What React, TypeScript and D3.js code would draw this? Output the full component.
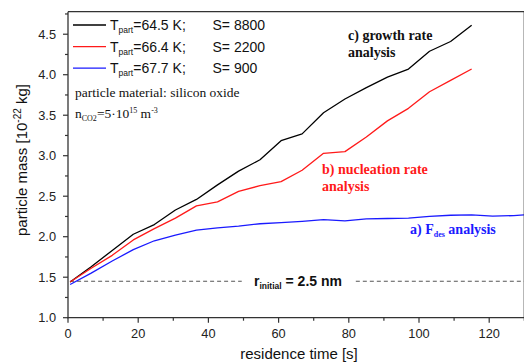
import React from "react";
import * as d3 from "d3";

const timesMain = [0.6, 6.6, 12.6, 18.6, 24.6, 30.6, 36.6, 42.6, 48.6, 54.7, 60.7, 66.7, 72.8, 78.9, 85, 91, 97, 103, 109, 115];
const massBlack = [1.44, 1.63, 1.83, 2.03, 2.15, 2.33, 2.46, 2.64, 2.81, 2.95, 3.185, 3.27, 3.53, 3.70, 3.84, 3.97, 4.07, 4.29, 4.41, 4.61];
const massRed = [1.44, 1.61, 1.77, 1.96, 2.10, 2.23, 2.38, 2.43, 2.56, 2.63, 2.68, 2.82, 3.03, 3.05, 3.23, 3.43, 3.585, 3.79, 3.93, 4.07];
const timesBlue = [0.6, 6.6, 12.6, 18.6, 24.6, 30.6, 36.6, 42.6, 48.6, 54.7, 60.7, 66.7, 72.8, 78.9, 85, 91, 97, 103, 109, 115, 121, 127, 130];
const massBlue = [1.41, 1.55, 1.70, 1.84, 1.95, 2.02, 2.08, 2.11, 2.13, 2.16, 2.175, 2.19, 2.21, 2.195, 2.22, 2.225, 2.23, 2.25, 2.265, 2.27, 2.255, 2.26, 2.27];
const initialMass = 1.45;

const xTicks = [0, 20, 40, 60, 80, 100, 120];
const xMinor = [10, 30, 50, 70, 90, 110, 130];
const yTicks = [1.0, 1.5, 2.0, 2.5, 3.0, 3.5, 4.0, 4.5];
const yMinor = [1.25, 1.75, 2.25, 2.75, 3.25, 3.75, 4.25, 4.75];

const legendT = ["64.5", "66.4", "67.7"];
const legendS = ["8800", "2200", "900"];
const colors = ["#000000", "#ff1a1a", "#1a1aff"];

const W = 524, H = 364;
const X0 = 68, X1 = 524.3, YB = 317.7, YT = 11.7;

export default function App() {
  const x = d3.scaleLinear().domain([0, 130]).range([X0, X1]);
  const y = d3.scaleLinear().domain([1.0, 4.778]).range([YB, YT]);
  const line = d3.line<[number, number]>().x(d => x(d[0])).y(d => y(d[1]));
  const series = [
    { t: timesMain, v: massBlack, c: colors[0] },
    { t: timesMain, v: massRed, c: colors[1] },
    { t: timesBlue, v: massBlue, c: colors[2] },
  ];
  const sans = "'Liberation Sans', Arial, sans-serif";
  const serif = "'Liberation Serif', 'Times New Roman', serif";
  const axisCol = "#333";
  return (
    <svg width={W} height={H} style={{ position: "absolute", left: 0, top: 0, background: "#fff" }}>
      <rect x={0} y={0} width={W} height={H} fill="#fff" />
      {/* dashed initial line */}
      <line x1={x(0.6)} x2={x(49.5)} y1={y(initialMass)} y2={y(initialMass)} stroke="#555" strokeWidth={1.2} strokeDasharray="4,3" />
      <line x1={x(82)} x2={x(130)} y1={y(initialMass)} y2={y(initialMass)} stroke="#555" strokeWidth={1.2} strokeDasharray="4,3" />
      <text x={254} y={286} fontFamily={sans} fontWeight="bold" fontSize={14} fill="#111">
        r<tspan dy={3} fontSize={8.5}>initial</tspan><tspan dy={-3}> = 2.5 nm</tspan>
      </text>
      {/* series */}
      {series.map((s, i) => (
        <path key={i} d={line(s.t.map((t, j) => [t, s.v[j]] as [number, number])) || ""} fill="none" stroke={s.c} strokeWidth={1.3} strokeLinejoin="round" />
      ))}
      {/* frame */}
      <line x1={X0} x2={X1} y1={YT} y2={YT} stroke={axisCol} strokeWidth={1.3} />
      <line x1={X1} x2={X1} y1={YT} y2={YB} stroke={axisCol} strokeWidth={1.3} />
      <line x1={X0} x2={X0} y1={YT} y2={YB + 0.6} stroke={axisCol} strokeWidth={1.3} />
      <line x1={X0 - 0.6} x2={X1} y1={YB} y2={YB} stroke={axisCol} strokeWidth={1.3} />
      {/* x ticks */}
      {xTicks.map(t => (
        <g key={"xt" + t}>
          <line x1={x(t)} x2={x(t)} y1={YB} y2={YB + 5} stroke={axisCol} strokeWidth={1.2} />
          <text x={x(t)} y={338} textAnchor="middle" fontFamily={sans} fontSize={12.8} fill="#222">{t}</text>
        </g>
      ))}
      {xMinor.map(t => (
        <line key={"xm" + t} x1={x(t)} x2={x(t)} y1={YB} y2={YB + 3} stroke={axisCol} strokeWidth={1.2} />
      ))}
      {/* y ticks */}
      {yTicks.map(v => (
        <g key={"yt" + v}>
          <line x1={X0 - 5} x2={X0} y1={y(v)} y2={y(v)} stroke={axisCol} strokeWidth={1.2} />
          <text x={56} y={y(v) + 4.5} textAnchor="end" fontFamily={sans} fontSize={12.8} fill="#222">{v.toFixed(1)}</text>
        </g>
      ))}
      {yMinor.map(v => (
        <line key={"ym" + v} x1={X0 - 3} x2={X0} y1={y(v)} y2={y(v)} stroke={axisCol} strokeWidth={1.2} />
      ))}
      {/* axis titles */}
      <text x={299} y={359} textAnchor="middle" fontFamily={sans} fontSize={15} fill="#111">residence time [s]</text>
      <text transform="translate(27,160) rotate(-90)" textAnchor="middle" fontFamily={sans} fontSize={15} fill="#111">
        particle mass [10<tspan dy={-6} fontSize={10}>-22</tspan><tspan dy={6}> kg]</tspan>
      </text>
      {/* legend */}
      {legendT.map((t, i) => {
        const ly = 25 + i * 21.6;
        return (
          <g key={"lg" + i}>
            <line x1={73} x2={106} y1={ly} y2={ly} stroke={colors[i]} strokeWidth={1.3} />
            <text x={110} y={ly + 5} fontFamily={sans} fontSize={14} fill="#111">
              T<tspan dy={3} fontSize={8.5}>part</tspan><tspan dy={-3}>={t} K;</tspan>
            </text>
            <text x={212.5} y={ly + 5} fontFamily={sans} fontSize={14} fill="#111">S= {legendS[i]}</text>
          </g>
        );
      })}
      <text x={75} y={97} fontFamily={serif} fontSize={13.5} fill="#111">particle material: silicon oxide</text>
      <text x={75} y={118} fontFamily={serif} fontSize={13.5} fill="#111">
        n<tspan dy={3} fontSize={8}>CO2</tspan><tspan dy={-3}>=5·10</tspan><tspan dy={-5} fontSize={8}>15</tspan><tspan dy={5}> m</tspan><tspan dy={-5} fontSize={8}>-3</tspan>
      </text>
      {/* annotations */}
      <text x={348} y={39.5} fontFamily={serif} fontWeight="bold" fontSize={14} fill="#111">c) growth rate</text>
      <text x={348} y={57} fontFamily={serif} fontWeight="bold" fontSize={14} fill="#111">analysis</text>
      <text x={322} y={173.5} fontFamily={serif} fontWeight="bold" fontSize={14} fill="#ff1a1a">b) nucleation rate</text>
      <text x={322} y={190.5} fontFamily={serif} fontWeight="bold" fontSize={14} fill="#ff1a1a">analysis</text>
      <text x={410} y={233.5} fontFamily={serif} fontWeight="bold" fontSize={14} fill="#1a1aff">
        a) F<tspan dy={3} fontSize={8}>des</tspan><tspan dy={-3}> analysis</tspan>
      </text>
    </svg>
  );
}
